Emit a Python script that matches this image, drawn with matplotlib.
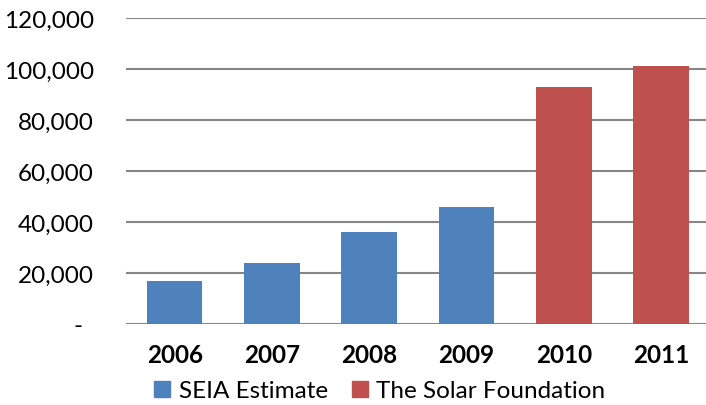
import matplotlib
matplotlib.use("Agg")
import matplotlib.pyplot as plt
import matplotlib.transforms as mtransforms
from matplotlib.patches import Patch

years = ["2006", "2007", "2008", "2009", "2010", "2011"]
values = [17000, 24000, 36000, 46000, 93000, 101000]
sources = ["SEIA Estimate", "SEIA Estimate", "SEIA Estimate", "SEIA Estimate",
           "The Solar Foundation", "The Solar Foundation"]
yticks = [0, 20000, 40000, 60000, 80000, 100000, 120000]
colors = {"SEIA Estimate": "#4F81BD", "The Solar Foundation": "#C0504D"}

plt.rcParams['font.family'] = ['Lato', 'DejaVu Sans']

fig = plt.figure(figsize=(7.06, 4.06), dpi=100)
ax = fig.add_axes([126/706, 81/406, (709.7-126)/706, (325-19)/406])

x = list(range(len(years)))
ax.bar(x, values, width=0.57, color=[colors[s] for s in sources], zorder=3)
ax.set_xlim(-0.5, len(years) - 0.5)
ax.set_ylim(0, 120000)
ax.set_yticks(yticks)
ax.set_yticklabels([f"{v:,}" if v else "-" for v in yticks], fontsize=17.5, color="#000000")
ax.set_xticks(x)
ax.set_xticklabels(years, fontsize=17.5, fontweight="bold")
ax.tick_params(axis="y", length=0, pad=23)
ax.tick_params(axis="x", length=0, pad=14)
ax.yaxis.grid(True, color="#868686", linewidth=1.5, zorder=0)
for s in ax.spines.values():
    s.set_visible(False)

# shift the "-" label left like Excel accounting format
lbl = ax.get_yticklabels()[0]
lbl.set_transform(lbl.get_transform() + mtransforms.ScaledTranslation(-12/100, 0, fig.dpi_scale_trans))

handles = [Patch(color=colors["SEIA Estimate"], label="SEIA Estimate"),
           Patch(color=colors["The Solar Foundation"], label="The Solar Foundation")]
fig.legend(handles=handles, loc="center", bbox_to_anchor=(380/706, 14/406), ncol=2,
           frameon=False, fontsize=17.5, handlelength=0.65, handleheight=0.65,
           handletextpad=0.35, columnspacing=1.0, borderpad=0, borderaxespad=0)

fig.savefig("out.png", dpi=100)
